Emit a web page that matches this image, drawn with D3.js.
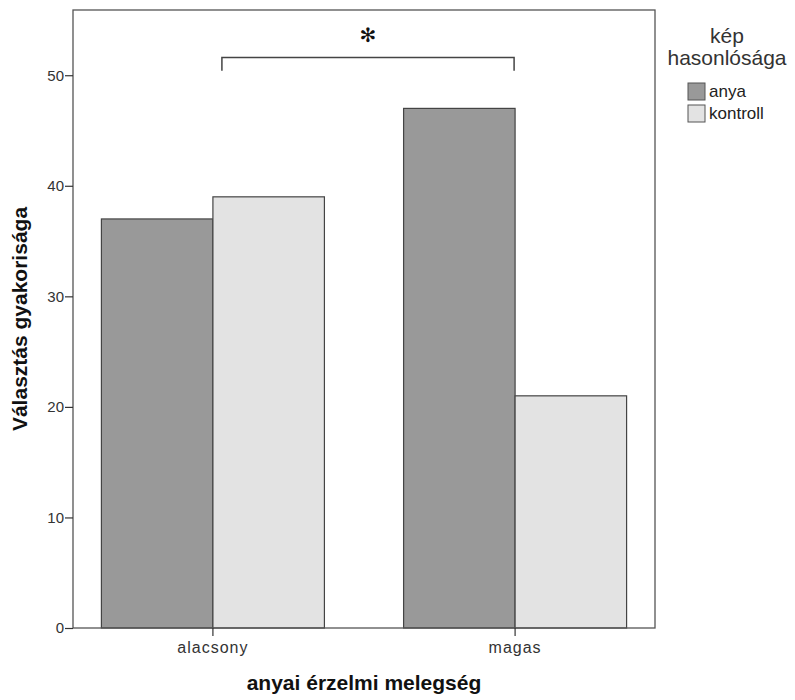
<!DOCTYPE html>
<html>
<head>
<meta charset="utf-8">
<script src="https://cdn.jsdelivr.net/npm/d3@7"></script>
<style>
  html, body { margin: 0; padding: 0; background: #fff; }
  svg { display: block; font-family: "Liberation Sans", Arial, sans-serif; }
</style>
</head>
<body>
<svg id="chart" width="795" height="700"></svg>
<script>
// Choice counts by maternal warmth level and picture similarity
const categories = ["alacsony", "magas"];
const seriesNames = ["anya", "kontroll"];
const anyaValues = [37, 47];
const kontrollValues = [39, 21];
const yTicks = [0, 10, 20, 30, 40, 50];
const seriesColors = ["#999999", "#e3e3e3"];

const xTitle = "anyai érzelmi melegség";
const yTitle = "Választás gyakorisága";
const legendTitle = ["kép", "hasonlósága"];
const sigMark = "✻";
const sigLevel = 51.6;

const svg = d3.select("#chart");
const frame = { left: 73, top: 10, right: 655, bottom: 628 };

const x = d3.scaleBand()
  .domain(categories)
  .range([frame.left, frame.right])
  .paddingInner(0.262)
  .paddingOuter(0.094);

const xSeries = d3.scaleBand()
  .domain(seriesNames)
  .range([0, x.bandwidth()]);

const y = d3.scaleLinear()
  .domain([0, 55.9])
  .range([frame.bottom, frame.top]);

const color = d3.scaleOrdinal().domain(seriesNames).range(seriesColors);

const rows = categories.map((c, i) => ({
  category: c,
  values: [
    { series: "anya", value: anyaValues[i] },
    { series: "kontroll", value: kontrollValues[i] }
  ]
}));

// Bars
const groups = svg.append("g")
  .selectAll("g")
  .data(rows)
  .join("g")
  .attr("transform", d => `translate(${x(d.category)},0)`);

groups.selectAll("rect")
  .data(d => d.values)
  .join("rect")
  .attr("x", d => xSeries(d.series))
  .attr("y", d => y(d.value))
  .attr("width", xSeries.bandwidth())
  .attr("height", d => y(0) - y(d.value))
  .attr("fill", d => color(d.series))
  .attr("stroke", "#444")
  .attr("stroke-width", 1.2);

// Plot frame
svg.append("rect")
  .attr("x", frame.left)
  .attr("y", frame.top)
  .attr("width", frame.right - frame.left)
  .attr("height", frame.bottom - frame.top)
  .attr("fill", "none")
  .attr("stroke", "#555")
  .attr("stroke-width", 1.3);

// Y axis
const yAxis = svg.append("g")
  .attr("transform", `translate(${frame.left},0)`)
  .call(d3.axisLeft(y).tickValues(yTicks).tickSize(8).tickPadding(1).tickFormat(d3.format("d")));
yAxis.select(".domain").remove();
yAxis.selectAll(".tick line").attr("stroke", "#333").attr("stroke-width", 1.2);
yAxis.selectAll(".tick text")
  .attr("fill", "#333")
  .style("font-size", "15px")
  .style("font-family", "'Liberation Sans', Arial, sans-serif");

// X axis
const xAxis = svg.append("g")
  .attr("transform", `translate(0,${frame.bottom})`)
  .call(d3.axisBottom(x).tickSize(8).tickPadding(6));
xAxis.select(".domain").remove();
xAxis.selectAll(".tick line").attr("stroke", "#333").attr("stroke-width", 1.2);
xAxis.selectAll(".tick text")
  .attr("fill", "#333")
  .style("font-size", "16px")
  .style("letter-spacing", "1px")
  .style("font-family", "'Liberation Sans', Arial, sans-serif");

// Axis titles
svg.append("text")
  .attr("x", (frame.left + frame.right) / 2)
  .attr("y", 690)
  .attr("text-anchor", "middle")
  .attr("font-weight", "bold")
  .attr("font-size", 21)
  .attr("fill", "#111")
  .text(xTitle);

svg.append("text")
  .attr("transform", `translate(27,${(frame.top + frame.bottom) / 2}) rotate(-90)`)
  .attr("text-anchor", "middle")
  .attr("font-weight", "bold")
  .attr("font-size", 21)
  .attr("fill", "#111")
  .text(yTitle);

// Significance bracket between the two "anya" bars
const bx1 = x("alacsony") + x.bandwidth() / 2 + 9;
const bx2 = x("magas") + x.bandwidth() / 2 - 1;
svg.append("path")
  .attr("d", `M${bx1},${y(sigLevel - 1.2)}V${y(sigLevel)}H${bx2}V${y(sigLevel - 1.2)}`)
  .attr("fill", "none")
  .attr("stroke", "#444")
  .attr("stroke-width", 1.5);

svg.append("text")
  .attr("x", (bx1 + bx2) / 2)
  .attr("y", 42)
  .attr("text-anchor", "middle")
  .attr("font-family", "'DejaVu Sans', sans-serif")
  .attr("font-size", 20)
  .attr("fill", "#111")
  .text(sigMark);

// Legend
const legend = svg.append("g").attr("transform", "translate(727,0)");
legend.selectAll("text.title")
  .data(legendTitle)
  .join("text")
  .attr("class", "title")
  .attr("x", 0)
  .attr("y", (d, i) => 43 + i * 22)
  .attr("text-anchor", "middle")
  .attr("font-size", 21)
  .attr("fill", "#333")
  .text(d => d);

const items = legend.selectAll("g.item")
  .data(seriesNames)
  .join("g")
  .attr("class", "item")
  .attr("transform", (d, i) => `translate(-39,${83 + i * 22})`);

items.append("rect")
  .attr("width", 17)
  .attr("height", 17)
  .attr("fill", d => color(d))
  .attr("stroke", "#555")
  .attr("stroke-width", 1);

items.append("text")
  .attr("x", 21)
  .attr("y", 14)
  .attr("font-size", 17)
  .attr("fill", "#222")
  .text(d => d);
</script>
</body>
</html>
